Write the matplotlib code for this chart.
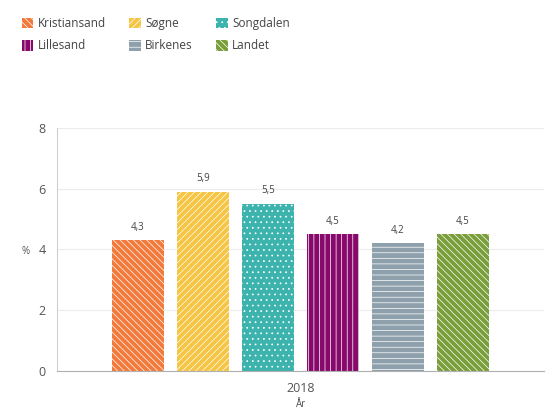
import matplotlib.pyplot as plt
import matplotlib as mpl
from matplotlib.patches import Patch

kommuner = ["Kristiansand", "Søgne", "Songdalen", "Lillesand", "Birkenes", "Landet"]
verdier = [4.3, 5.9, 5.5, 4.5, 4.2, 4.5]
farger = ["#F47A3C", "#F6C543", "#3DB3AE", "#87096B", "#8DA0AC", "#7A9E3A"]
monstre = ["\\\\\\\\\\", "/////", "...", "|||", "---", "\\\\\\\\\\"]
aar = ["2018"]

mpl.rcParams["font.family"] = ["Open Sans", "DejaVu Sans"]
mpl.rcParams["hatch.color"] = "white"
mpl.rcParams["hatch.linewidth"] = 0.5

fig = plt.figure(figsize=(5.47, 4.19), dpi=100)
ax = fig.add_axes([0.104, 0.115, 0.89, 0.58])

bredde = 0.106
steg = 0.1335
n = len(kommuner)
for i, (navn, v, f, h) in enumerate(zip(kommuner, verdier, farger, monstre)):
    x = (i - (n - 1) / 2) * steg
    ax.bar(x, v, width=bredde, color=f, hatch=h, edgecolor="white", linewidth=0, label=navn)
    ax.text(x, v + 0.25, str(v).replace(".", ","), ha="center", va="bottom", fontsize=7, color="#444444")

ax.set_xlim(-0.5, 0.5)
ax.set_ylim(0, 8)
ax.set_yticks([0, 2, 4, 6, 8])
ax.set_xticks([0])
ax.set_xticklabels(aar)
ax.grid(axis="y", color="#ececec", linewidth=0.8)
ax.set_axisbelow(True)
for s in ["top", "right"]:
    ax.spines[s].set_visible(False)
ax.spines["left"].set_color("#d0d0d0")
ax.spines["bottom"].set_color("#b0b0b0")
ax.tick_params(length=0, labelsize=9, colors="#555555", pad=8)
ax.set_ylabel("%", fontsize=7, color="#555555", rotation=0)
ax.yaxis.set_label_coords(-0.065, 0.47)
ax.set_xlabel("År", fontsize=7, color="#555555", labelpad=3)

handles = [Patch(facecolor=f, hatch=h, edgecolor="white", linewidth=0) for f, h in zip(farger, monstre)]
order = [0, 3, 1, 4, 2, 5]
fig.legend([handles[i] for i in order], [kommuner[i] for i in order], ncol=3, loc="upper left",
           bbox_to_anchor=(0.02, 0.985), frameon=False, fontsize=8.5, handlelength=1.0, handleheight=1.0,
           handletextpad=0.35, columnspacing=2.0, labelspacing=0.8, labelcolor="#444444")

fig.savefig("out.png", dpi=100)
